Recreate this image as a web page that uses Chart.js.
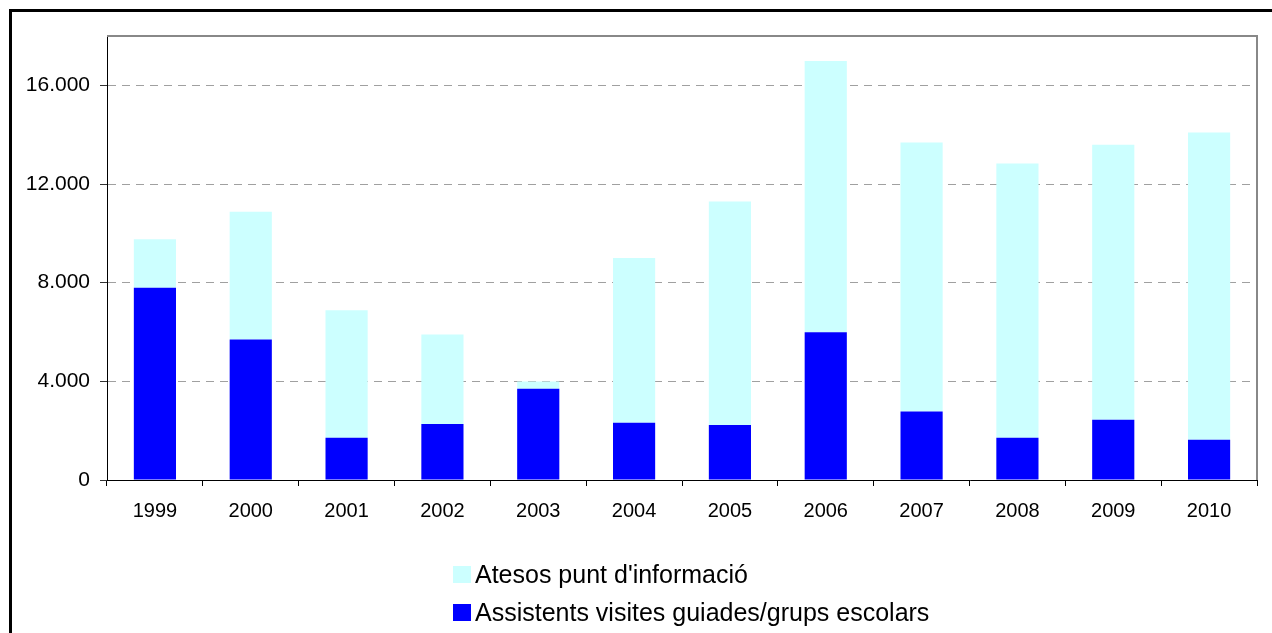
<!DOCTYPE html>
<html>
<head>
<meta charset="utf-8">
<script src="https://cdn.jsdelivr.net/npm/chart.js@4/dist/chart.umd.min.js"></script>
<style>
  html, body { margin: 0; padding: 0; background: #fff; }
  #wrap { position: relative; width: 1272px; height: 633px; }
</style>
</head>
<body>
<div id="wrap"><canvas id="c" width="1272" height="633"></canvas></div>
<script>
const years = ['1999','2000','2001','2002','2003','2004','2005','2006','2007','2008','2009','2010'];
const assistents = [7790, 5700, 1710, 2270, 3700, 2320, 2230, 5990, 2780, 1710, 2440, 1630];
const atesos = [1970, 5170, 5170, 3630, 290, 6680, 9060, 11000, 10900, 11120, 11150, 12460];
const yTicks = [0, 4000, 8000, 12000, 16000];
const labelAtesos = "Atesos punt d'informació";
const labelAssistents = 'Assistents visites guiades/grups escolars';

const FONT = "'Liberation Sans', Arial, sans-serif";

function fmt(v) {
  return String(v).replace(/\B(?=(\d{3})+(?!\d))/g, '.');
}

const framePlugin = {
  id: 'frame',
  beforeDraw(chart) {
    const ctx = chart.ctx;
    ctx.save();
    ctx.fillStyle = '#fff';
    ctx.fillRect(0, 0, chart.width, chart.height);
    ctx.fillStyle = '#000';
    ctx.fillRect(9, 9, chart.width - 9, 3);
    ctx.fillRect(9, 9, 3, chart.height - 9);
    ctx.restore();
  },
  afterDraw(chart) {
    const ctx = chart.ctx;
    const a = chart.chartArea;
    ctx.save();
    ctx.strokeStyle = '#888888';
    ctx.lineWidth = 2;
    ctx.beginPath();
    ctx.moveTo(a.left, a.top);
    ctx.lineTo(a.right, a.top);
    ctx.lineTo(a.right, a.bottom);
    ctx.stroke();
    // legend (left-aligned rows, reversed dataset order)
    const items = chart.data.datasets.slice().reverse();
    const x0 = 453;
    const rows = [575, 613];
    ctx.font = '25px ' + FONT;
    ctx.textBaseline = 'middle';
    ctx.textAlign = 'left';
    items.forEach((ds, i) => {
      const cy = rows[i];
      ctx.fillStyle = ds.backgroundColor;
      ctx.fillRect(x0, cy - 9, 18, 17);
      ctx.fillStyle = '#000';
      ctx.fillText(ds.label, x0 + 22, cy + 1);
    });
    ctx.restore();
  }
};

new Chart(document.getElementById('c'), {
  type: 'bar',
  data: {
    labels: years,
    datasets: [
      { label: labelAssistents, data: assistents, backgroundColor: '#0000FF', borderWidth: 0 },
      { label: labelAtesos, data: atesos, backgroundColor: '#CCFFFF', borderWidth: 0 }
    ]
  },
  options: {
    responsive: false,
    animation: false,
    devicePixelRatio: 1,
    layout: { padding: { left: 0, top: 36, right: 15, bottom: 97 } },
    datasets: { bar: { categoryPercentage: 1.0, barPercentage: 0.44 } },
    plugins: { legend: { display: false }, tooltip: { enabled: false } },
    scales: {
      x: {
        stacked: true,
        grid: { display: true, drawOnChartArea: false, offset: true, color: '#000', tickLength: 6, lineWidth: 1 },
        border: { display: true, color: '#000', width: 1 },
        ticks: { color: '#000', font: { family: FONT, size: 20 }, padding: 13, maxRotation: 0, autoSkip: false }
      },
      y: {
        stacked: true,
        min: 0,
        max: 18000,
        afterFit(scale) { scale.width = 107; },
        afterBuildTicks(scale) { scale.ticks = yTicks.map(v => ({ value: v })); },
        grid: { color: '#A0A0A0', lineWidth: 1, tickColor: '#333', tickLength: 7, tickBorderDash: [] },
        border: { display: true, color: '#000', width: 1, dash: [8, 6] },
        ticks: { color: '#000', font: { family: FONT, size: 21 }, padding: 10, callback: (v) => fmt(v) }
      }
    }
  },
  plugins: [framePlugin]
});
</script>
</body>
</html>
